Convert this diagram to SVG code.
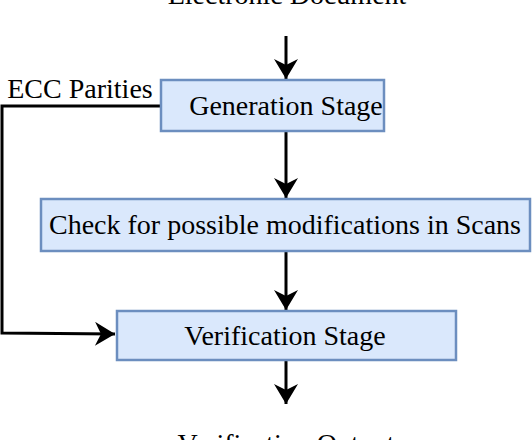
<svg xmlns="http://www.w3.org/2000/svg" width="532" height="440" viewBox="0 0 532 440">
<style>
.box{fill:#dae8fc;stroke:#6c8ebf;stroke-width:2.5}
.t{font-family:"Liberation Serif","Times New Roman",serif;font-size:28px;fill:#000;text-anchor:middle}
.c{fill:none;stroke:#000;stroke-width:3}
</style>
<defs>
<marker id="a" viewBox="0 0 20 24" refX="20" refY="12" markerWidth="27" markerHeight="24" markerUnits="userSpaceOnUse" orient="auto">
<path d="M0,0 L20,12 L0,24 L6,12 Z" fill="#000"/>
</marker>
</defs>
<text class="t" x="287" y="4">Electronic Document</text>
<text class="t" x="286" y="453">Verification Output</text>
<text class="t" x="80" y="98">ECC Parities</text>
<g id="connectors">
<path class="c" d="M286,36 V79" marker-end="url(#a)"/>
<path class="c" d="M286,131 V198" marker-end="url(#a)"/>
<path class="c" d="M286,251 V310" marker-end="url(#a)"/>
<path class="c" d="M286,360 V404" marker-end="url(#a)"/>
<path class="c" d="M161,106 H2 V333 L115,334" marker-end="url(#a)"/>
</g>
<g id="gen"><rect class="box" x="161" y="80" width="223" height="51"/><text class="t" x="286" y="115">Generation Stage</text></g>
<g id="check"><rect class="box" x="41" y="199" width="489" height="52"/><text class="t" x="285" y="234">Check for possible modifications in Scans</text></g>
<g id="verif"><rect class="box" x="117" y="311" width="339" height="49"/><text class="t" x="285" y="345">Verification Stage</text></g>
</svg>
